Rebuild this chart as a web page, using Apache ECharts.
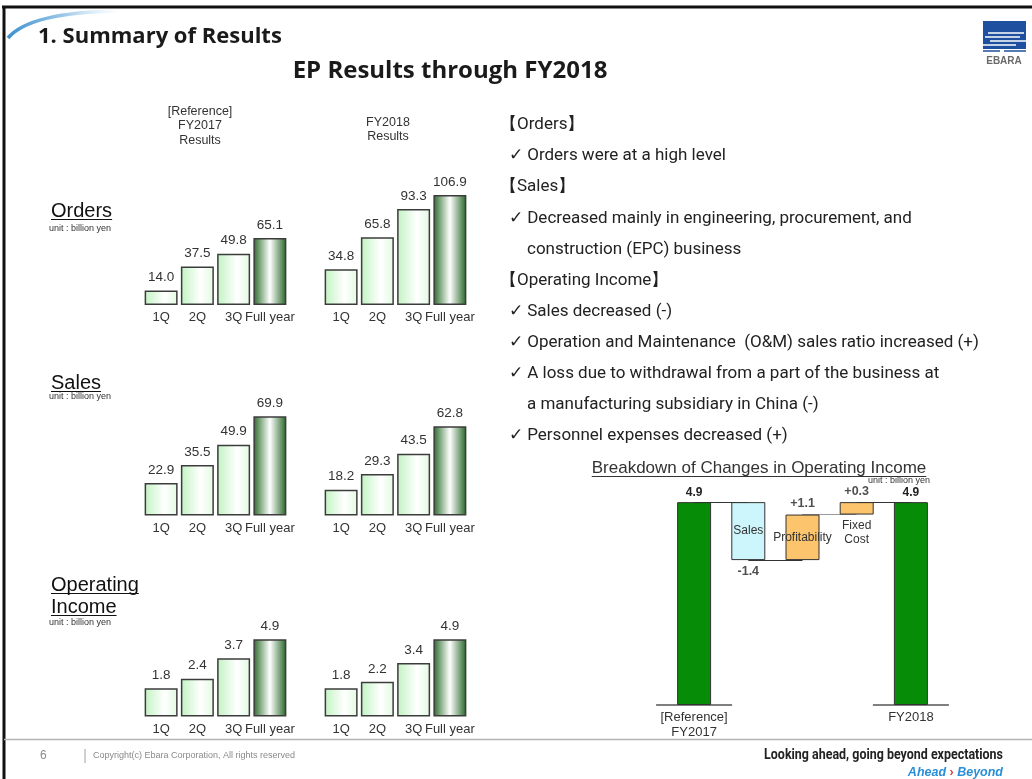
<!DOCTYPE html>
<html>
<head>
<meta charset="utf-8">
<title>EP Results through FY2018</title>
<script src="https://cdn.jsdelivr.net/npm/echarts@6/dist/echarts.min.js"></script>
<style>
  html, body { margin: 0; padding: 0; background: #fff; }
  #chart { width: 1032px; height: 779px; }
</style>
</head>
<body>
<div id="chart"></div>
<script>
// quarterly results (billion yen, cumulative)
const quarters = ['1Q', '2Q', '3Q', 'Full year'];
const orders2017 = [14.0, 37.5, 49.8, 65.1];
const orders2018 = [34.8, 65.8, 93.3, 106.9];
const sales2017 = [22.9, 35.5, 49.9, 69.9];
const sales2018 = [18.2, 29.3, 43.5, 62.8];
const income2017 = [1.8, 2.4, 3.7, 4.9];
const income2018 = [1.8, 2.2, 3.4, 4.9];

// breakdown of changes in operating income
const wfCategories = ['[Reference]\nFY2017', 'Sales', 'Profitability', 'Fixed\nCost', 'FY2018'];
const wfStart = 4.9;
const wfChanges = [-1.4, 1.1, 0.3];
const wfEnd = 4.9;

const chartFont = 'Liberation Sans';
const textFont = 'Roboto';

const chart = echarts.init(document.getElementById('chart'));

// text width, for the underlines
const measureCtx = document.createElement('canvas').getContext('2d');
function textWidth(text, font) {
  measureCtx.font = font;
  return measureCtx.measureText(text).width;
}

const quarterFill = new echarts.graphic.LinearGradient(0, 0, 1, 0, [
  {offset: 0, color: '#c2f3c2'},
  {offset: 0.6, color: '#ffffff'},
  {offset: 1, color: '#e2fae2'}
]);
const fullYearFill = new echarts.graphic.LinearGradient(0, 0, 1, 0, [
  {offset: 0, color: '#286a28'},
  {offset: 0.5, color: '#ffffff'},
  {offset: 1, color: '#256525'}
]);

// small bar panels: baseline y and pixels per unit
const panels = [
  {data: orders2017, left: 143, base: 305, scale: 1.03, max: 120},
  {data: orders2018, left: 323, base: 305, scale: 1.03, max: 120},
  {data: sales2017, left: 143, base: 515.5, scale: 1.42, max: 80},
  {data: sales2018, left: 323, base: 515.5, scale: 1.42, max: 80},
  {data: income2017, left: 143, base: 716.5, scale: 15.75, max: 6},
  {data: income2018, left: 323, base: 716.5, scale: 15.75, max: 6}
];

const grid = [];
const xAxis = [];
const yAxis = [];
const series = [];

panels.forEach((p, i) => {
  grid.push({left: p.left, top: p.base - p.scale * p.max, width: 145, height: p.scale * p.max});
  xAxis.push({
    gridIndex: i,
    type: 'category',
    data: quarters,
    axisLine: {show: false},
    axisTick: {show: false},
    axisLabel: {interval: 0, margin: 6, color: '#333', fontFamily: chartFont, fontSize: 13}
  });
  yAxis.push({gridIndex: i, type: 'value', min: 0, max: p.max, show: false});
  series.push({
    type: 'bar',
    xAxisIndex: i,
    yAxisIndex: i,
    barCategoryGap: '9%',
    silent: true,
    data: p.data.map((v, k) => ({value: v, itemStyle: {color: k === 3 ? fullYearFill : quarterFill}})),
    itemStyle: {borderColor: '#3c3c3c', borderWidth: 1.5},
    label: {
      show: true,
      position: 'top',
      distance: 6,
      color: '#333',
      fontFamily: chartFont,
      fontSize: 13.5,
      formatter: d => d.value.toFixed(1)
    }
  });
});

// waterfall
const wfTotals = [wfStart];
wfChanges.forEach(c => wfTotals.push(wfTotals[wfTotals.length - 1] + c));
const wfBase = [0];
const wfSize = [wfStart];
wfChanges.forEach((c, i) => {
  wfBase.push(Math.min(wfTotals[i], wfTotals[i + 1]));
  wfSize.push(Math.abs(c));
});
wfBase.push(0);
wfSize.push(wfEnd);

const last = wfCategories.length - 1;
const wfColors = ['#078c07', '#ccf6fb', '#fcc46c', '#fcc46c', '#078c07'];

grid.push({left: 667, top: 705 - 41.4 * 5, width: 271, height: 41.4 * 5});
xAxis.push({
  gridIndex: 6,
  type: 'category',
  data: wfCategories,
  axisLine: {show: false},
  axisTick: {show: false},
  axisLabel: {
    interval: 0,
    margin: 5,
    color: '#333',
    fontFamily: chartFont,
    fontSize: 13,
    lineHeight: 15,
    formatter: (v, i) => (i === 0 || i === last ? v : '')
  }
});
yAxis.push({gridIndex: 6, type: 'value', min: 0, max: 5, show: false});

series.push({
  type: 'bar',
  xAxisIndex: 6,
  yAxisIndex: 6,
  stack: 'wf',
  barWidth: 34,
  silent: true,
  itemStyle: {color: 'rgba(0,0,0,0)', borderWidth: 0},
  data: wfBase,
  markLine: {
    silent: true,
    z: 1,
    symbol: ['none', 'none'],
    label: {show: false},
    lineStyle: {color: '#333', width: 1, type: 'solid'},
    data: wfTotals.map((t, i) => [
      {coord: [i, t], lineStyle: i === 2 ? {type: 'dotted'} : {}},
      {coord: [i + 1, t]}
    ])
  }
});

series.push({
  type: 'bar',
  xAxisIndex: 6,
  yAxisIndex: 6,
  stack: 'wf',
  barWidth: 34,
  z: 3,
  silent: true,
  label: {show: true, color: '#333', fontFamily: chartFont, fontSize: 12},
  data: wfSize.map((v, i) => {
    let label;
    if (i === 0 || i === last) {
      label = {position: 'top', distance: 3, fontWeight: 'bold', color: '#222', formatter: v.toFixed(1)};
    } else if (i === last - 1) {
      label = {position: 'bottom', distance: 4, lineHeight: 14, formatter: '{b}'};
    } else {
      label = {position: 'inside', formatter: '{b}'};
    }
    return {
      value: v,
      itemStyle: {color: wfColors[i], borderColor: '#333', borderWidth: 1},
      label: label
    };
  })
});

// value labels of the changes
series.push({
  type: 'scatter',
  xAxisIndex: 6,
  yAxisIndex: 6,
  symbolSize: 1,
  z: 4,
  silent: true,
  itemStyle: {color: 'rgba(0,0,0,0)'},
  label: {show: true, distance: 4, fontWeight: 'bold', color: '#222', fontFamily: chartFont, fontSize: 12.5},
  data: wfChanges.map((c, i) => ({
    value: [i + 1, c < 0 ? wfBase[i + 1] : wfBase[i + 1] + wfSize[i + 1]],
    label: {position: c < 0 ? 'bottom' : 'top', formatter: (c > 0 ? '+' : '') + c.toFixed(1)}
  }))
});

// slide texts and decorations
function text(str, x, y, font, extra) {
  return {
    type: 'text', x: x, y: y, silent: true,
    style: Object.assign({text: str, font: font, fill: '#222', textVerticalAlign: 'middle'}, extra || {})
  };
}
function line(x1, y1, x2, y2, stroke, width, extra) {
  return {
    type: 'line', silent: true,
    shape: {x1: x1, y1: y1, x2: x2, y2: y2},
    style: Object.assign({stroke: stroke, lineWidth: width}, extra || {})
  };
}
function underlined(str, x, y, font, offset) {
  return [
    text(str, x, y, font, {fill: '#111'}),
    line(x, y + offset, x + textWidth(str, font), y + offset, '#111', 1.2)
  ];
}

const sectionFont = '20px "' + chartFont + '"';
const unitFont = '9px "' + chartFont + '"';
const noteFont = '17px ' + textFont;

const notes = [
  ['【Orders】', 0],
  ['✓ Orders were at a high level', 1],
  ['【Sales】', 0],
  ['✓ Decreased mainly in engineering, procurement, and', 1],
  ['construction (EPC) business', 2],
  ['【Operating Income】', 0],
  ['✓ Sales decreased (-)', 1],
  ['✓ Operation and Maintenance  (O&M) sales ratio increased (+)', 1],
  ['✓ A loss due to withdrawal from a part of the business at', 1],
  ['a manufacturing subsidiary in China (-)', 2],
  ['✓ Personnel expenses decreased (+)', 1]
];
const noteIndent = [500, 509, 527];

const wfTitle = 'Breakdown of Changes in Operating Income';
const wfTitleFont = '17px "' + chartFont + '"';
const wfTitleW = textWidth(wfTitle, wfTitleFont);

const elements = [
  // frame and swoosh
  line(2, 7, 1032, 7, '#111', 3),
  line(4, 6, 4, 779, '#111', 3),
  {
    type: 'bezierCurve', silent: true,
    shape: {x1: 8, y1: 38, cpx1: 30, cpy1: 12, x2: 120, y2: 11},
    style: {
      fill: 'none', lineWidth: 3.5,
      stroke: new echarts.graphic.LinearGradient(0, 0, 1, 0, [
        {offset: 0, color: '#3a8fce'},
        {offset: 0.5, color: '#9cc8ea'},
        {offset: 1, color: 'rgba(220,235,248,0)'}
      ])
    }
  },
  text('1. Summary of Results', 38, 37, 'bold 22px "Open Sans"', {fill: '#1a1a1a'}),
  text('EP Results through FY2018', 450, 71, 'bold 24px "Open Sans"', {fill: '#1a1a1a', textAlign: 'center'}),

  // logo
  {type: 'rect', silent: true, shape: {x: 983, y: 21, width: 43, height: 28}, style: {fill: '#1f4f9f'}},
  line(988, 33, 1024, 33, '#fff', 1.5),
  line(985, 37, 1020, 37, '#fff', 1.5),
  line(990, 41, 1026, 41, '#fff', 1.5),
  line(983, 45, 1016, 45, '#fff', 1.5),
  line(983, 51, 1000, 51, '#1f4f9f', 1.5),
  line(1004, 51, 1026, 51, '#1f4f9f', 1.5),
  text('EBARA', 1004, 61, 'bold 10px "' + chartFont + '"', {fill: '#6a6a6a', textAlign: 'center'}),

  // column headers
  text('[Reference]\nFY2017\nResults', 200, 126, '12.5px "' + chartFont + '"', {textAlign: 'center', lineHeight: 14.5, fill: '#333'}),
  text('FY2018\nResults', 388, 130, '12.5px "' + chartFont + '"', {textAlign: 'center', lineHeight: 14, fill: '#333'}),

  // section labels
  ...underlined('Orders', 51, 211, sectionFont, 8.5),
  text('unit : billion yen', 49, 228.5, unitFont, {fill: '#333'}),
  ...underlined('Sales', 51, 383, sectionFont, 8.5),
  text('unit : billion yen', 49, 397, unitFont, {fill: '#333'}),
  ...underlined('Operating', 51, 585, sectionFont, 8.5),
  ...underlined('Income', 51, 607, sectionFont, 8.5),
  text('unit : billion yen', 49, 623, unitFont, {fill: '#333'}),

  // notes
  ...notes.map((n, i) => text(n[0], noteIndent[n[1]], 125 + i * 31.1, noteFont, {fill: '#222'})),

  // waterfall title
  text(wfTitle, 759, 468, wfTitleFont, {textAlign: 'center', fill: '#333'}),
  line(759 - wfTitleW / 2, 476.5, 759 + wfTitleW / 2, 476.5, '#333', 1.2),
  text('unit : billion yen', 930, 481, unitFont, {textAlign: 'right', fill: '#333'}),

  // footer
  line(4, 739.5, 1032, 739.5, '#b4b4b4', 1.5),
  text('6', 40, 756, '12px "' + chartFont + '"', {fill: '#8a8a8a'}),
  line(85, 749, 85, 763, '#a0a0a0', 1),
  text('Copyright(c) Ebara Corporation, All rights reserved', 93, 756, '9px "' + chartFont + '"', {fill: '#8a8a8a'}),
  Object.assign(text('Looking ahead, going beyond expectations', 1003, 755, 'bold 14px Roboto', {textAlign: 'right', fill: '#222'}), {scaleX: 0.89}),
  {
    type: 'text', x: 1003, y: 773, silent: true,
    style: {
      text: '{a|Ahead}{r| › }{a|Beyond}',
      textAlign: 'right', textVerticalAlign: 'middle',
      rich: {
        a: {fontFamily: chartFont, fontSize: 12.5, fontStyle: 'italic', fontWeight: 'bold', fill: '#2a8fd6'},
        r: {fontFamily: chartFont, fontSize: 12.5, fontWeight: 'bold', fill: '#e0403a'}
      }
    }
  }
];

chart.setOption({
  animation: false,
  grid: grid,
  xAxis: xAxis,
  yAxis: yAxis,
  series: series,
  graphic: {elements: elements}
});

// broken baseline under the two totals of the waterfall
const baseLines = [0, last].map((idx, k) => {
  const p = chart.convertToPixel({gridIndex: 6}, [idx, 0]);
  return Object.assign(line(p[0] - 38, p[1], p[0] + 38, p[1], '#555', 1.5), {id: 'wfBaseline' + k});
});
chart.setOption({graphic: {elements: baseLines}});
</script>
</body>
</html>
